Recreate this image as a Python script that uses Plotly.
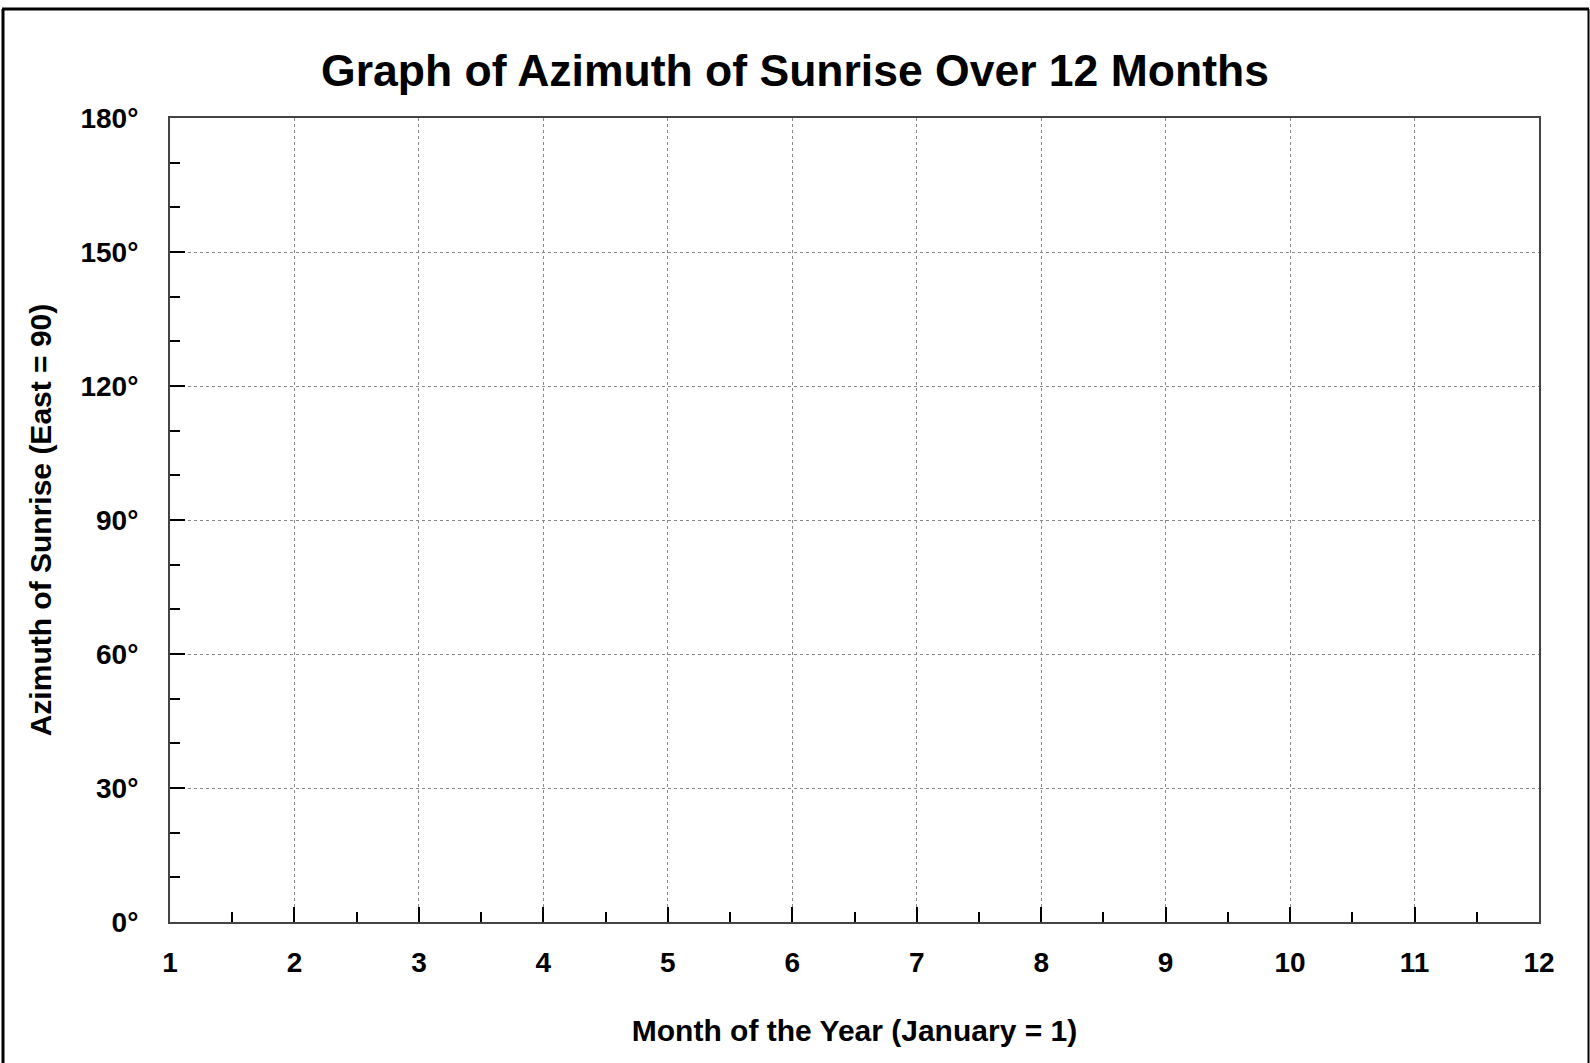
import plotly.graph_objects as go

# ---- data (blank template: axes only) ----
month_ticks = [1, 2, 3, 4, 5, 6, 7, 8, 9, 10, 11, 12]
month_labels = [str(m) for m in month_ticks]
azimuth_ticks = [0, 30, 60, 90, 120, 150, 180]
azimuth_labels = ["0°", "30°", "60°", "90°", "120°", "150°", "180°"]
month_range = [1, 12]
azimuth_range = [0, 180]

title_text = "Graph of Azimuth of Sunrise Over 12 Months"
x_title = "Month of the Year (January = 1)"
y_title = "Azimuth of Sunrise (East = 90)"

FONT = "Liberation Sans, Arial, sans-serif"

fig = go.Figure()
# empty series so the axes are laid out by the library
fig.add_trace(go.Scatter(x=[], y=[], mode="lines", showlegend=False))

W, H = 1590, 1063
L, R, T, B = 170, 51, 118, 141

fig.update_layout(
    width=W, height=H,
    margin=dict(l=L, r=R, t=T, b=B, pad=0),
    paper_bgcolor="white", plot_bgcolor="white",
    font=dict(family=FONT, color="black"),
    title=dict(text=f"<b>{title_text}</b>", x=0.5, xref="container", xanchor="center",
               y=1 - 70 / H, yanchor="middle", yref="container",
               font=dict(size=44.5, family=FONT, color="black")),
    showlegend=False,
)

fig.update_xaxes(
    range=month_range, tickmode="array", tickvals=month_ticks, ticktext=month_labels,
    showline=True, linecolor="#444", linewidth=2, mirror=True,
    ticks="inside", ticklen=15, tickwidth=2, tickcolor="black",
    ticklabelstandoff=14,
    tickfont=dict(size=28, family=FONT, color="black", weight="bold"),
    showgrid=True, gridcolor="#888", gridwidth=1, griddash="dot",
    zeroline=False,
    minor=dict(tick0=1, dtick=0.5, ticks="inside", ticklen=10, tickwidth=2,
               tickcolor="black", showgrid=False),
    title=dict(text=f"<b>{x_title}</b>", standoff=43,
               font=dict(size=30, family=FONT, color="black")),
)
fig.update_yaxes(
    range=azimuth_range, tickmode="array", tickvals=azimuth_ticks, ticktext=azimuth_labels,
    showline=True, linecolor="#444", linewidth=2, mirror=True,
    ticks="inside", ticklen=15, tickwidth=2, tickcolor="black",
    ticklabelstandoff=24,
    tickfont=dict(size=28, family=FONT, color="black", weight="bold"),
    showgrid=True, gridcolor="#888", gridwidth=1, griddash="dot",
    zeroline=False,
    minor=dict(tick0=0, dtick=10, ticks="inside", ticklen=10, tickwidth=2,
               tickcolor="black", showgrid=False),
    title=dict(text=f"<b>{y_title}</b>", standoff=20,
               font=dict(size=30, family=FONT, color="black")),
)

# outer page frame (extends past the bottom edge, as in the reference)
pw, ph = W - L - R, H - T - B
def px(xp):
    return (xp - L) / pw
def py(yp):
    return (H - B - yp) / ph
frame = dict(xref="paper", yref="paper", type="line", layer="above")
fig.add_shape(**frame, x0=px(2), x1=px(1589), y0=py(9), y1=py(9), line=dict(color="black", width=3))
fig.add_shape(**frame, x0=px(3), x1=px(3), y0=py(9), y1=py(1080), line=dict(color="black", width=3))
fig.add_shape(**frame, x0=px(1588.5), x1=px(1588.5), y0=py(9), y1=py(1080), line=dict(color="black", width=2))

fig.write_html(
    "out.html",
    config={"displayModeBar": False},
    post_script="document.body.style.margin='0';document.body.style.overflow='hidden';",
)
